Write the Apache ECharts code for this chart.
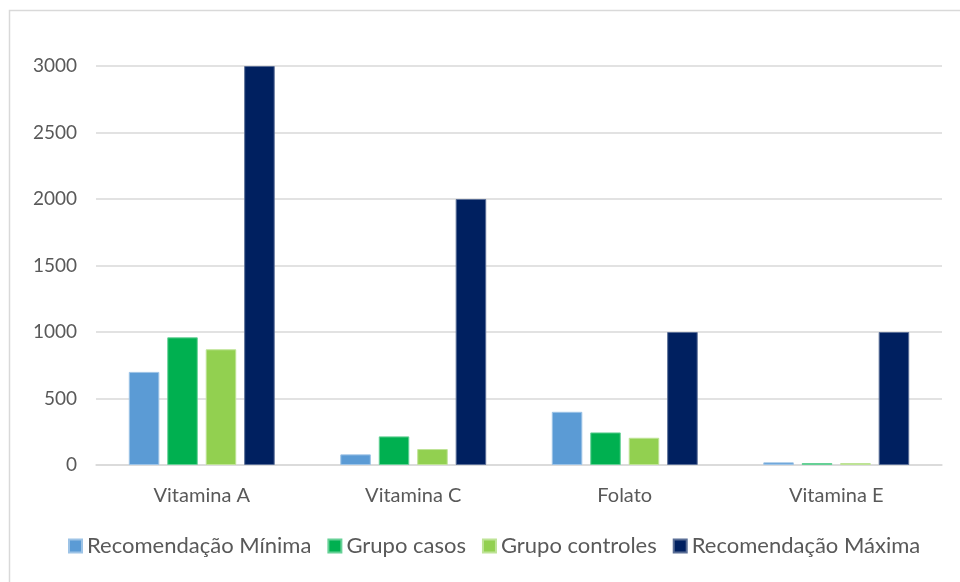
<!DOCTYPE html>
<html>
<head>
<meta charset="utf-8">
<script src="https://cdn.jsdelivr.net/npm/echarts@6/dist/echarts.min.js"></script>
<style>
  html, body { margin: 0; padding: 0; background: #fff; }
  #chart { width: 960px; height: 582px; }
</style>
</head>
<body>
<div id="chart"></div>
<script>
// Vitamin intake: recommended min/max vs. case and control groups
const categories = ['Vitamina A', 'Vitamina C', 'Folato', 'Vitamina E'];
const seriesNames = ['Recomendação Mínima', 'Grupo casos', 'Grupo controles', 'Recomendação Máxima'];
const recMinima = [700, 80, 400, 20];
const grupoCasos = [960, 215, 245, 15];
const grupoControles = [870, 120, 205, 15];
const recMaxima = [3000, 2000, 1000, 1000];
const yTicks = [0, 500, 1000, 1500, 2000, 2500, 3000];

const colors = ['#5B9BD5', '#00B050', '#92D050', '#002060'];
const edgeColors = ['#9DC3E6', '#66D096', '#BEE396', '#5A6E96'];
const seriesData = [recMinima, grupoCasos, grupoControles, recMaxima];
const font = 'Lato, "Open Sans", sans-serif';

const chart = echarts.init(document.getElementById('chart'), null, { renderer: 'canvas' });
chart.setOption({
  animation: false,
  backgroundColor: '#fff',
  color: colors,
  graphic: [{
    type: 'rect',
    shape: { x: 9.5, y: 10.5, width: 1000, height: 1000 },
    style: { fill: 'none', stroke: '#d9d9d9', lineWidth: 1.5 },
    silent: true
  }],
  grid: { left: 96, right: 18, top: 66, bottom: 117 },
  legend: {
    bottom: 20,
    left: 63,
    itemWidth: 13,
    itemHeight: 13,
    itemGap: 16,
    icon: 'rect',
    textStyle: { color: '#595959', fontSize: 22, fontFamily: font, padding: [0, 0, 0, 0] },
    data: seriesNames
  },
  xAxis: {
    type: 'category',
    data: categories,
    axisLine: { show: true, lineStyle: { color: '#d9d9d9', width: 1.5 } },
    axisTick: { show: false },
    axisLabel: { color: '#595959', fontSize: 20, fontFamily: font, margin: 21 }
  },
  yAxis: {
    type: 'value',
    min: yTicks[0],
    max: yTicks[yTicks.length - 1],
    interval: 500,
    axisLine: { show: false },
    axisTick: { show: false },
    splitLine: { lineStyle: { color: '#d9d9d9', width: 1.5 } },
    axisLabel: { color: '#595959', fontSize: 19, fontFamily: font, margin: 19, formatter: v => String(v) }
  },
  series: seriesNames.map((name, i) => ({
    name: name,
    type: 'bar',
    data: seriesData[i],
    barGap: '26%',
    barCategoryGap: '31%',
    itemStyle: { color: colors[i], borderColor: edgeColors[i], borderWidth: 1 }
  }))
});
</script>
</body>
</html>
